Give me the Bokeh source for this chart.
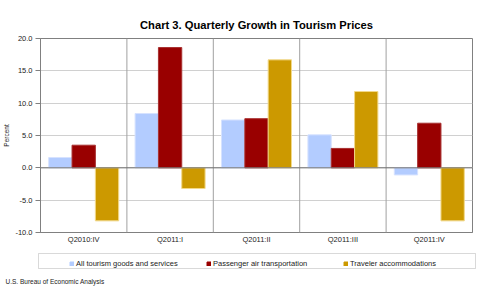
from bokeh.plotting import figure
from bokeh.layouts import column
from bokeh.models import (ColumnDataSource, FactorRange, Span, Legend, LegendItem,
                          Label, BoxAnnotation, NumeralTickFormatter, FixedTicker, Range1d)
from bokeh.transform import dodge
from bokeh.embed import file_html
from bokeh.resources import INLINE

quarters = ["Q2010:IV", "Q2011:I", "Q2011:II", "Q2011:III", "Q2011:IV"]
all_tourism = [1.6, 8.4, 7.4, 5.1, -1.1]
air_transport = [3.5, 18.6, 7.6, 3.0, 6.9]
accommodations = [-8.2, -3.2, 16.7, 11.8, -8.2]
series_names = ["All tourism goods and services", "Passenger air transportation",
                "Traveler accommodations"]
y_ticks = [-10, -5, 0, 5, 10, 15, 20]

FONT = "Liberation Sans"
src = ColumnDataSource(dict(q=quarters, a=all_tourism, b=air_transport, c=accommodations))

p = figure(x_range=FactorRange(*quarters, range_padding=0), y_range=(-10, 20),
           width=480, height=250, output_backend="svg", toolbar_location=None,
           min_border_left=39, min_border_right=8, min_border_top=38, min_border_bottom=18)
p.frame_align = False

p.title.text = "Chart 3. Quarterly Growth in Tourism Prices"
p.title.align = "center"
p.title.offset = 3
p.title.standoff = 15
p.title.text_font = FONT
p.title.text_font_size = "11.2px"
p.title.text_font_style = "bold"
p.title.text_color = "#000000"

fills = ["#B3CCFF", "#990000", "#CC9900"]
edges = ["#D6E2FF", "#A83030", "#F2D98A"]
cols = ["a", "b", "c"]
offs = [-0.27, 0.0, 0.27]
for col, off, f, e in zip(cols, offs, fills, edges):
    p.vbar(x=dodge("q", off, range=p.x_range), top=col, bottom=0, width=0.27,
           source=src, fill_color=f, line_color=e, line_width=1)

# grid
p.xgrid.visible = False
p.ygrid.grid_line_color = "#D0D0D0"
p.ygrid.grid_line_width = 1
for loc in [1, 2, 3, 4]:
    p.add_layout(Span(location=loc, dimension="height", line_color="#A0A0A0", line_width=1))
p.add_layout(Span(location=0, dimension="width", line_color="#707070", line_width=1))

p.outline_line_color = "#808080"
p.outline_line_width = 1

# axes
p.yaxis.ticker = FixedTicker(ticks=y_ticks)
p.yaxis.formatter = NumeralTickFormatter(format="0.0")
p.yaxis.major_label_text_font = FONT
p.yaxis.major_label_text_font_size = "7.5px"
p.yaxis.major_label_text_color = "#222222"
p.yaxis.axis_line_color = "#808080"
p.yaxis.major_tick_line_color = "#808080"
p.yaxis.major_tick_out = 5
p.yaxis.major_tick_in = 0
p.yaxis.minor_tick_line_color = None
p.yaxis.major_label_standoff = 3
p.yaxis.axis_label = "Percent"
p.yaxis.axis_label_text_font = FONT
p.yaxis.axis_label_text_font_size = "6.5px"
p.yaxis.axis_label_text_font_style = "normal"
p.yaxis.axis_label_text_color = "#222222"
p.yaxis.axis_label_standoff = 2

p.xaxis.major_label_text_font = FONT
p.xaxis.major_label_text_font_size = "7.5px"
p.xaxis.major_label_text_color = "#222222"
p.xaxis.axis_line_color = "#808080"
p.xaxis.major_tick_line_color = None
p.xaxis.major_tick_out = 0
p.xaxis.major_tick_in = 0
p.xaxis.major_label_standoff = 2

# legend + footer strip (bars drawn here fall outside its y range; they only feed the legend)
q = figure(width=480, height=38, output_backend="svg", toolbar_location=None,
           x_axis_type=None, y_axis_type=None,
           x_range=FactorRange(*quarters, range_padding=0), y_range=Range1d(100, 101),
           min_border_left=0, min_border_right=0, min_border_top=0, min_border_bottom=0)
q.frame_align = False
q.outline_line_color = None
q.grid.visible = False
key_rends = [q.vbar(x=dodge("q", off, range=q.x_range), top=col, bottom=0, width=0.27,
                    source=src, fill_color=f, line_color=f)
             for col, off, f in zip(cols, offs, fills)]

q.add_layout(BoxAnnotation(left=38, right=475, bottom=20, top=35,
                           left_units="screen", right_units="screen",
                           top_units="screen", bottom_units="screen",
                           fill_alpha=0, line_color="#808080", line_width=1))
legend = Legend(items=[LegendItem(label=n, renderers=[r]) for n, r in zip(series_names, key_rends)],
                location=(69, 20), orientation="horizontal",
                border_line_color=None, background_fill_alpha=0,
                glyph_width=5, glyph_height=5, label_width=115,
                label_text_font=FONT, label_text_font_size="7.5px",
                label_text_color="#222222", label_standoff=2, padding=3,
                spacing=15, margin=0, label_height=9)
q.add_layout(legend, "center")
q.add_layout(Label(x=5, y=4, x_units="screen", y_units="screen",
                   text="U.S. Bureau of Economic Analysis", text_font=FONT,
                   text_font_size="6.5px", text_color="#222222"))

layout = column(p, q, spacing=0)
open("out.html", "w").write(file_html(layout, INLINE))
